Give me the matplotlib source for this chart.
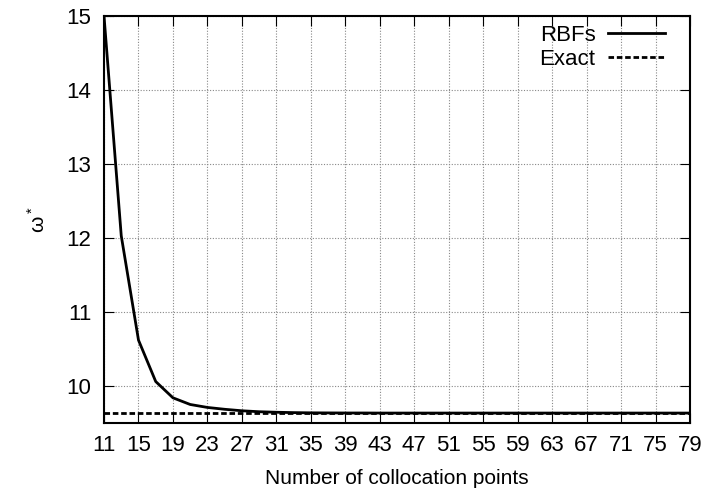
import numpy as np
import matplotlib
matplotlib.use("Agg")
from matplotlib import pyplot as plt

# данные: число точек коллокации и значения omega*
n_points = [11, 13, 15, 17, 19, 21, 23, 25, 27, 29, 31, 33, 35, 37, 39, 41, 43, 45,
            47, 49, 51, 53, 55, 57, 59, 61, 63, 65, 67, 69, 71, 73, 75, 77, 79]
rbf_vals = [15.0, 12.03, 10.62, 10.06, 9.84, 9.75, 9.71, 9.685, 9.665, 9.652, 9.645,
            9.640, 9.637, 9.636, 9.635, 9.635, 9.634, 9.634, 9.634, 9.634, 9.634,
            9.634, 9.634, 9.634, 9.634, 9.634, 9.634, 9.634, 9.634, 9.634, 9.634,
            9.634, 9.634, 9.634, 9.634]
exact_val = 9.634
x_ticks = list(range(11, 80, 4))
y_ticks = [10, 11, 12, 13, 14, 15]

plt.rcParams['font.family'] = ['Liberation Sans', 'DejaVu Sans']

fig = plt.figure(figsize=(7.1, 4.95), dpi=100)
ax = fig.add_axes([0.1465, 0.1455, 0.8255, 0.822])

ax.plot(n_points, rbf_vals, color='black', lw=2, label='RBFs')
ax.axhline(exact_val, color='black', lw=2, ls=(0, (2, 1)), label='Exact')

ax.set_xlim(11, 79)
ax.set_ylim(9.5, 15)
ax.set_xticks(x_ticks)
ax.set_yticks(y_ticks)
ax.tick_params(direction='in', top=True, right=True, labelsize=16, length=7, pad=9)
ax.grid(True, color='#888888', ls=(0, (1, 1.5)), lw=0.8)
for s in ax.spines.values():
    s.set_linewidth(1.5)

ax.set_xlabel('Number of collocation points', fontsize=15, labelpad=9)
ax.set_ylabel(r'$\mathregular{\omega^*}$', fontsize=15, labelpad=13)

leg = ax.legend(loc='upper right', bbox_to_anchor=(0.973, 1.0), frameon=False,
                markerfirst=False, fontsize=16, handlelength=2.6, borderaxespad=0,
                labelspacing=0.12, handletextpad=0.55)

fig.savefig('out.png', dpi=100)
